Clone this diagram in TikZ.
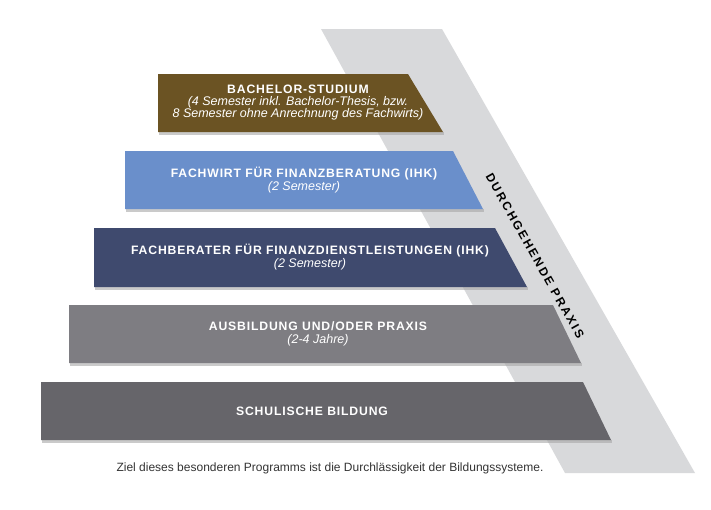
\documentclass[tikz,border=0pt]{standalone}
\usepackage{fontspec}
\setmainfont{Liberation Sans}
\definecolor{cBach}{HTML}{6B5323}
\definecolor{cFw}{HTML}{6A8FCB}
\definecolor{cFb}{HTML}{3F4A6E}
\definecolor{cAus}{HTML}{7E7D82}
\definecolor{cSch}{HTML}{66656A}
\definecolor{cBand}{HTML}{D8D9DB}
\definecolor{cCap}{HTML}{333333}
\newcommand{\ttl}[1]{{\fontsize{12.2}{14}\selectfont\bfseries\addfontfeatures{LetterSpace=7}#1}}
\newcommand{\sbt}[1]{{\fontsize{12.5}{14.5}\selectfont\itshape #1}}
\begin{document}
\begin{tikzpicture}[x=1pt,y=-1pt,
  lbl/.style={text=white,align=center,inner sep=0pt},
  shad/.style={fill=black!35,opacity=0.6}]
\useasboundingbox (0,0) rectangle (711,509);
\fill[cBand] (321,29) -- (442,29) -- (695,473) -- (565,473) -- cycle;
\node[rotate=-60.5,inner sep=0pt] (band) at (535,256)
  {\fontsize{12}{14}\selectfont\bfseries\addfontfeatures{LetterSpace=18}DURCHGEHENDE PRAXIS};
\foreach \l/\t/\b/\rt/\rb/\c in {158/74/132/408/443/cBach,125/151/209/453/483/cFw,94/228/287/495/527/cFb,69/305/363/553/581/cAus,41/382/440/583/611/cSch}{
  \fill[shad] (\l+1,\b) -- (\rb+1,\b) -- (\rb+1,\b+3) -- (\l+1,\b+3) -- cycle;
  \fill[\c] (\l,\t) -- (\rt,\t) -- (\rb,\b) -- (\l,\b) -- cycle;
}
\node[lbl] (bach) at (298,103) {\ttl{BACHELOR-STUDIUM}\\[0pt]\sbt{(4 Semester inkl. Bachelor-Thesis, bzw.}\\\sbt{8 Semester ohne Anrechnung des Fachwirts)}};
\node[lbl] (fw) at (304,180) {\ttl{FACHWIRT FÜR FINANZBERATUNG (IHK)}\\[1pt]\sbt{(2 Semester)}};
\node[lbl] (fb) at (310,257) {\ttl{FACHBERATER FÜR FINANZDIENSTLEISTUNGEN (IHK)}\\[1pt]\sbt{(2 Semester)}};
\node[lbl] (aus) at (318,334) {\ttl{AUSBILDUNG UND/ODER PRAXIS}\\[1pt]\sbt{(2-4 Jahre)}};
\node[lbl] (sch) at (312,411) {\ttl{SCHULISCHE BILDUNG}};
\node[inner sep=0pt,text=cCap] (cap) at (330,468) {\fontsize{12}{14}\selectfont Ziel dieses besonderen Programms ist die Durchlässigkeit der Bildungssysteme.};
\end{tikzpicture}
\end{document}
